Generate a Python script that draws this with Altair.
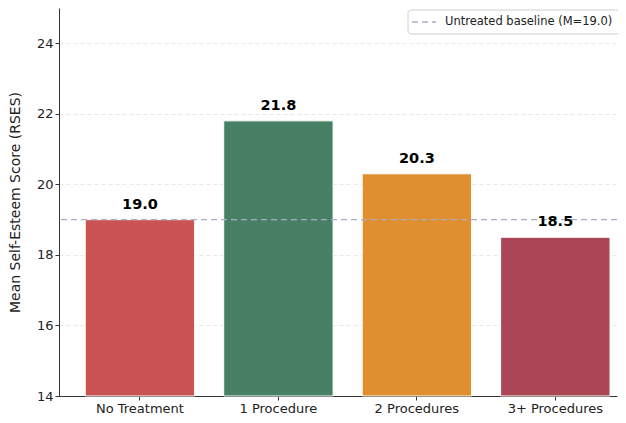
import altair as alt
import pandas as pd

categories = ["No Treatment", "1 Procedure", "2 Procedures", "3+ Procedures"]
means = [19.0, 21.8, 20.3, 18.5]
colors = ["#C94A4A", "#3F7A5E", "#DE8A25", "#A63D4D"]
baseline = 19.0
baseline_label = "Untreated baseline (M=19.0)"
axis_floor = 14

df = pd.DataFrame({"cat": categories, "mean": means, "color": colors,
                   "label": [f"{v:.1f}" for v in means],
                   "floor": [axis_floor] * len(categories)})
base_df = pd.DataFrame({"y": [baseline]})

xscale = alt.Scale(domain=categories, paddingInner=0.21, paddingOuter=0.12, align=0.79)
yscale = alt.Scale(domain=[14, 25], nice=False, zero=False)

x = alt.X("cat:N", scale=xscale, sort=categories, title=None,
          axis=alt.Axis(labelAngle=0, labelFontSize=13, labelColor="#222", labelFont="DejaVu Sans",
                        domainColor="#333", tickColor="#333", tickSize=4, labelPadding=2))

bars = alt.Chart(df).mark_bar(opacity=0.95, stroke="white", strokeWidth=1).encode(
    x=x,
    y=alt.Y("mean:Q", scale=yscale, title="Mean Self-Esteem Score (RSES)",
            axis=alt.Axis(values=[14, 16, 18, 20, 22, 24], grid=True, gridDash=[4, 3],
                          gridColor="#e2e2e2", gridWidth=0.8, labelFontSize=13, labelColor="#222",
                          labelFont="DejaVu Sans", titleFont="DejaVu Sans", titleFontSize=14,
                          titleFontWeight="normal", titleColor="#222", domainColor="#333",
                          tickColor="#333", tickSize=4, titlePadding=14)),
    y2="floor:Q",
    color=alt.Color("color:N", scale=None),
)

rule = alt.Chart(base_df).mark_rule(color="#a9aec8", strokeDash=[6, 4], strokeWidth=1.3).encode(
    y=alt.Y("y:Q", scale=yscale),
)

text = alt.Chart(df).mark_text(dy=-15, fontSize=14.5, fontWeight="bold", font="DejaVu Sans",
                               color="black").encode(
    x=alt.X("cat:N", scale=xscale, sort=categories),
    y=alt.Y("mean:Q", scale=yscale),
    text="label:N",
)

legend_df = pd.DataFrame({"lab": [baseline_label]})
leg_box = alt.Chart(legend_df).mark_rect(fill="white", stroke="#d0d0d0", strokeWidth=1,
                                         cornerRadius=3).encode(
    x=alt.value(349), x2=alt.value(560), y=alt.value(2), y2=alt.value(26))
leg_line = alt.Chart(legend_df).mark_rule(color="#a9aec8", strokeDash=[6, 4], strokeWidth=1.3).encode(
    x=alt.value(353), x2=alt.value(377), y=alt.value(14))
leg_text = alt.Chart(legend_df).mark_text(align="left", baseline="middle", fontSize=11.5,
                                          font="DejaVu Sans", color="#222").encode(
    x=alt.value(386), y=alt.value(14), text="lab:N")

chart = alt.layer(bars, rule, text, leg_box, leg_line, leg_text).properties(
    width=610, height=407, padding=0,
    autosize=alt.AutoSizeParams(type="fit", contains="padding"),
).configure_view(stroke=None).configure_axis(labelFont="DejaVu Sans")

chart.save("out.html", embed_options={"renderer": "svg", "actions": False})
